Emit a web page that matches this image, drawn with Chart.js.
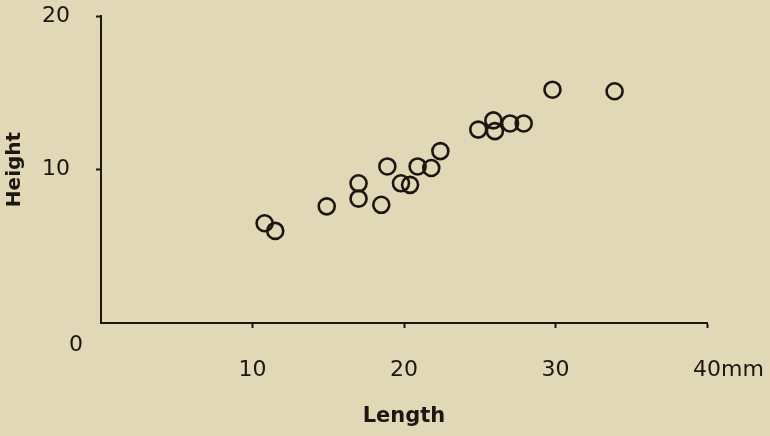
<!DOCTYPE html>
<html>
<head>
<meta charset="utf-8">
<script src="https://cdn.jsdelivr.net/npm/chart.js@4"></script>
<style>
  body { margin: 0; background: #e1d8b7; }
  #wrap { width: 770px; height: 436px; position: relative; }
</style>
</head>
<body>
<div id="wrap"><canvas id="myChart"></canvas></div>
<script>
// shell length (mm) and height
var lengths = [10.8, 11.5, 14.9, 17.0, 17.0, 18.5, 18.9, 19.8, 20.4, 20.9, 21.8, 22.4, 24.9, 25.9, 26.0, 27.0, 27.9, 29.8, 33.9];
var heights = [6.5, 6.0, 7.6, 9.1, 8.1, 7.7, 10.2, 9.1, 9.0, 10.2, 10.1, 11.2, 12.6, 13.2, 12.5, 13.0, 13.0, 15.2, 15.1];
var xTicks = [10, 20, 30, 40];
var yTicks = [10, 20];

var ink = "#1c1712";
var tickFont = { family: "DejaVu Sans", size: 22 };

var points = [];
for (var i = 0; i < lengths.length; i++) {
  points.push({ x: lengths[i], y: heights[i] });
}

// the stray "0" at the corner and the "mm" after 40
var extraLabels = {
  id: "extraLabels",
  afterDraw: function (chart) {
    var ctx = chart.ctx;
    var xs = chart.scales.x;
    var ys = chart.scales.y;
    ctx.save();
    ctx.fillStyle = ink;
    ctx.font = "22px 'DejaVu Sans'";
    ctx.textAlign = "center";
    ctx.textBaseline = "middle";
    ctx.fillText("0", xs.getPixelForValue(0) - 25, ys.getPixelForValue(0) + 22);
    ctx.textAlign = "left";
    ctx.fillText("mm", xs.getPixelForValue(40) + 14, ys.getPixelForValue(0) + 47);
    ctx.restore();
  },
};

var ctx = document.getElementById("myChart");

var myChart = new Chart(ctx, {
  type: "scatter",
  data: {
    datasets: [
      {
        data: points,
        backgroundColor: "transparent",
        borderColor: ink,
        borderWidth: 2.6,
        pointRadius: 8,
        pointHoverRadius: 8,
      },
    ],
  },
  options: {
    responsive: true,
    maintainAspectRatio: false,
    animation: false,
    layout: { padding: { top: 16, right: 63, left: 0, bottom: 0 } },
    plugins: { legend: { display: false }, tooltip: { enabled: false } },
    scales: {
      x: {
        type: "linear",
        min: 0,
        max: 40,
        afterBuildTicks: function (scale) {
          scale.ticks = xTicks.map(function (v) { return { value: v }; });
        },
        afterFit: function (scale) {
          scale.height = 113;
          scale.paddingLeft = 0;
          scale.paddingRight = 0;
        },
        grid: { drawOnChartArea: false, drawTicks: true, tickLength: 5, tickWidth: 2, tickColor: ink },
        border: { display: true, color: ink, width: 2 },
        ticks: { color: ink, font: tickFont, padding: 29, maxRotation: 0 },
        title: {
          display: true,
          text: "Length",
          color: ink,
          font: { family: "DejaVu Sans", size: 21, weight: "bold" },
          padding: { top: 0, bottom: 7 },
        },
      },
      y: {
        type: "linear",
        min: 0,
        max: 20,
        afterBuildTicks: function (scale) {
          scale.ticks = yTicks.map(function (v) { return { value: v }; });
        },
        afterFit: function (scale) {
          scale.width = 101;
          scale.paddingTop = 0;
          scale.paddingBottom = 0;
        },
        grid: { drawOnChartArea: false, drawTicks: true, tickLength: 5, tickWidth: 2, tickColor: ink },
        border: { display: true, color: ink, width: 2 },
        ticks: { color: ink, font: tickFont, padding: 26 },
        title: {
          display: true,
          text: "Height",
          color: ink,
          font: { family: "DejaVu Sans", size: 20, weight: "bold" },
          padding: { top: 3, bottom: 0 },
        },
      },
    },
  },
  plugins: [extraLabels],
});
</script>
</body>
</html>
